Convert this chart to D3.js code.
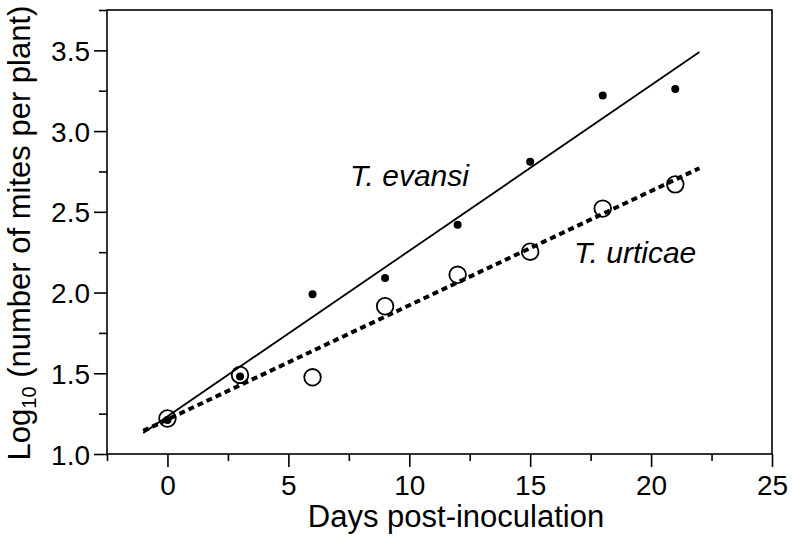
<!DOCTYPE html>
<html>
<head>
<meta charset="utf-8">
<script src="https://cdn.jsdelivr.net/npm/d3@7"></script>
<style>
  html, body { margin: 0; padding: 0; background: #fff; }
  svg { display: block; font-family: "Liberation Sans", Arial, Helvetica, sans-serif; }
</style>
</head>
<body>
<svg id="chart" width="792" height="541"></svg>
<script>
// ---- data ----
const days = [0, 3, 6, 9, 12, 15, 18, 21];
const evansi = [1.21, 1.48, 1.99, 2.09, 2.42, 2.81, 3.22, 3.26];
const urticae = [1.22, 1.49, 1.475, 1.915, 2.11, 2.253, 2.52, 2.67];
const fitRange = [-1, 22];
const xTicks = [0, 5, 10, 15, 20, 25];
const yTicks = [1.0, 1.5, 2.0, 2.5, 3.0, 3.5];
const xDomain = [-2.5, 25];
const yDomain = [1.0, 3.75];
const labels = { evansi: "T. evansi", urticae: "T. urticae" };
const xTitle = "Days post-inoculation";

// ---- layout ----
const W = 792, H = 541;
const m = { left: 107, right: 20, top: 10, bottom: 87 };
const svg = d3.select("#chart");

const x = d3.scaleLinear().domain(xDomain).range([m.left, W - m.right]);
const y = d3.scaleLinear().domain(yDomain).range([H - m.bottom, m.top]);

function fit(xs, ys) {
  const mx = d3.mean(xs), my = d3.mean(ys);
  let sxy = 0, sxx = 0;
  xs.forEach((xi, i) => { sxy += (xi - mx) * (ys[i] - my); sxx += (xi - mx) ** 2; });
  const b = sxy / sxx;
  return { a: my - b * mx, b };
}

const g = svg.append("g");

// frame
g.append("rect")
  .attr("x", x(xDomain[0])).attr("y", y(yDomain[1]))
  .attr("width", x(xDomain[1]) - x(xDomain[0]))
  .attr("height", y(yDomain[0]) - y(yDomain[1]))
  .attr("fill", "none").attr("stroke", "#000").attr("stroke-width", 1.6);

// x axis major & minor
const xAxis = d3.axisBottom(x).tickValues(xTicks).tickSize(13).tickFormat(d3.format("d"));
const xMinor = d3.axisBottom(x).tickValues(d3.range(xDomain[0], xDomain[1], 5)).tickSize(7).tickFormat("");
const xg = g.append("g").attr("transform", `translate(0,${y(yDomain[0])})`).call(xAxis);
const xmg = g.append("g").attr("transform", `translate(0,${y(yDomain[0])})`).call(xMinor);
[xg, xmg].forEach(s => {
  s.select(".domain").remove();
  s.selectAll("line").attr("stroke", "#000").attr("stroke-width", 1.6);
});
xg.selectAll("text").attr("font-size", 28).attr("fill", "#000").attr("y", 0).attr("dy", 0)
  .attr("transform", "translate(0,41)");

// y axis major & minor
const yAxis = d3.axisLeft(y).tickValues(yTicks).tickSize(13).tickFormat(d3.format(".1f"));
const yMinor = d3.axisLeft(y).tickValues(d3.range(1.25, 3.76, 0.5)).tickSize(8).tickFormat("");
const yg = g.append("g").attr("transform", `translate(${x(xDomain[0])},0)`).call(yAxis);
const ymg = g.append("g").attr("transform", `translate(${x(xDomain[0])},0)`).call(yMinor);
[yg, ymg].forEach(s => {
  s.select(".domain").remove();
  s.selectAll("line").attr("stroke", "#000").attr("stroke-width", 1.6);
});
yg.selectAll("text").attr("font-size", 28).attr("fill", "#000").attr("x", -17).attr("dy", "0.36em");

// regression lines
const fe = fit(days, evansi), fu = fit(days, urticae);
const line = d3.line().x(d => x(d[0])).y(d => y(d[1]));
g.append("path")
  .datum(fitRange.map(d => [d, fe.a + fe.b * d]))
  .attr("d", line).attr("fill", "none").attr("stroke", "#000").attr("stroke-width", 1.8);
g.append("path")
  .datum(fitRange.map(d => [d, fu.a + fu.b * d]))
  .attr("d", line).attr("fill", "none").attr("stroke", "#000").attr("stroke-width", 4)
  .attr("stroke-dasharray", "6,4");

// points
g.selectAll(".u").data(days).join("circle").attr("class", "u")
  .attr("cx", d => x(d)).attr("cy", (d, i) => y(urticae[i])).attr("r", 8.3)
  .attr("fill", "none").attr("stroke", "#000").attr("stroke-width", 1.8);
g.selectAll(".e").data(days).join("circle").attr("class", "e")
  .attr("cx", d => x(d)).attr("cy", (d, i) => y(evansi[i])).attr("r", 4)
  .attr("fill", "#000");

// series labels
g.append("text").attr("x", 350).attr("y", 186).attr("font-size", 30).attr("font-style", "italic")
  .text(labels.evansi);
g.append("text").attr("x", 574).attr("y", 263).attr("font-size", 30).attr("font-style", "italic")
  .text(labels.urticae);

// axis titles
g.append("text").attr("x", 456).attr("y", 527).attr("text-anchor", "middle").attr("font-size", 31)
  .text(xTitle);
const yt = g.append("text").attr("transform", "translate(30,233) rotate(-90)")
  .attr("text-anchor", "middle").attr("font-size", 31);
yt.append("tspan").text("Log");
yt.append("tspan").attr("font-size", 20).attr("dy", 6).text("10");
yt.append("tspan").attr("dy", -6).text(" (number of mites per plant)");
</script>
</body>
</html>
